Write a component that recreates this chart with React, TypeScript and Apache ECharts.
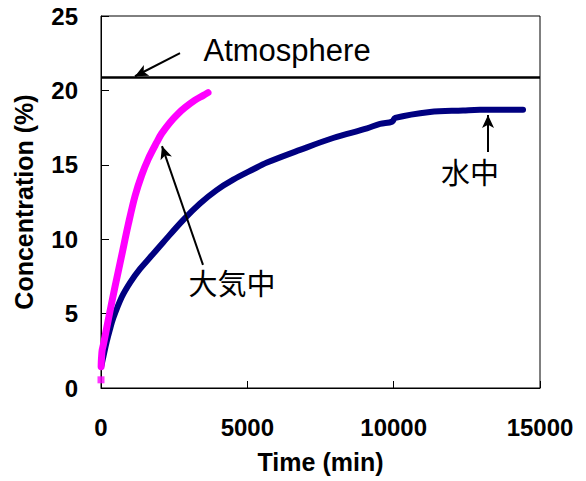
import React, { useEffect, useRef } from "react";
import * as echarts from "echarts";

// 水中 (in water) series
const waterTime = [15, 80, 194, 300, 420, 706, 1000, 1333, 1732, 2130, 2813, 3383, 3953, 4520, 5205, 5672, 6800, 7930, 9090, 9533, 9950, 10050, 11240, 12370, 12950, 14420];
const waterConc = [1.5, 2.1, 3.1, 3.9, 4.7, 6.1, 7.1, 8.0, 8.9, 9.8, 11.3, 12.4, 13.3, 14.0, 14.7, 15.15, 16.0, 16.8, 17.45, 17.75, 17.9, 18.15, 18.55, 18.65, 18.7, 18.7];

// 大気中 (in air) series
const airTime = [5, 10, 20, 40, 80, 250, 478, 706, 933, 1162, 1390, 1617, 1902, 2073, 2358, 2643, 2870, 3212, 3485, 3656];
const airConc = [1.43, 1.77, 2.1, 2.55, 2.9, 4.6, 6.8, 8.9, 11.0, 12.9, 14.3, 15.4, 16.5, 17.1, 17.85, 18.45, 18.85, 19.35, 19.65, 19.85];
const airStartTime = [0];
const airStartConc = [0.55];

// atmospheric level
const atmosphereLevel = 20.9;

// axis ticks
const xTicks = [0, 5000, 10000, 15000];
const yTicks = [0, 5, 10, 15, 20, 25];

// annotations (data coordinates)
const annotationTexts = ["Atmosphere", "大気中", "水中"];
const annotationTextTime = [3485, 4476, 12610];
const annotationTextConc = [22.7, 7.14, 14.58];
const arrowTailTime = [2700, 3485, 13224];
const arrowTailConc = [22.5, 8.27, 15.86];
const arrowHeadTime = [1162, 2084, 13224];
const arrowHeadConc = [20.95, 16.26, 18.35];

const NUM_FONT = "'Liberation Sans', Arial, sans-serif";
const CJK_FONT = "'Noto Sans CJK JP', 'Liberation Sans', sans-serif";

export default function App() {
  const ref = useRef<HTMLDivElement>(null);

  useEffect(() => {
    document.body.style.margin = "0";
    if (!ref.current) return;
    const chart = echarts.init(ref.current, undefined, { renderer: "svg" });

    const waterData = waterTime.map((t, i) => [t, waterConc[i]]);
    const airData = airTime.map((t, i) => [t, airConc[i]]);
    const airStart = airStartTime.map((t, i) => [t, airStartConc[i]]);

    const arrows = arrowTailTime.map((t, i) => [
      { coord: [t, arrowTailConc[i]] },
      { coord: [arrowHeadTime[i], arrowHeadConc[i]] },
    ]);

    const labels = annotationTexts.map((txt, i) => ({
      coord: [annotationTextTime[i], annotationTextConc[i]],
      value: txt,
      symbol: "circle",
      symbolSize: 1,
      itemStyle: { color: "transparent" },
      label: {
        show: true,
        formatter: txt,
        position: i === 0 ? "right" : "inside",
        distance: 0,
        color: "#000",
        fontSize: i === 0 ? 31 : 29,
        fontFamily: i === 0 ? NUM_FONT : CJK_FONT,
        fontWeight: "normal",
      },
    }));

    chart.setOption({
      animation: false,
      backgroundColor: "#fff",
      grid: {
        left: 101,
        right: 46,
        top: 16,
        bottom: 93,
        show: true,
        borderColor: "#000",
        borderWidth: 1,
        backgroundColor: "transparent",
      },
      xAxis: {
        type: "value",
        min: xTicks[0],
        max: xTicks[xTicks.length - 1],
        interval: xTicks[1] - xTicks[0],
        name: "Time (min)",
        nameLocation: "middle",
        nameGap: 61,
        nameTextStyle: { fontSize: 25, fontWeight: "bold", color: "#000", fontFamily: NUM_FONT },
        axisLine: { show: true, lineStyle: { color: "#000", width: 1 } },
        axisTick: { show: true, inside: true, length: 7, lineStyle: { color: "#000" } },
        axisLabel: {
          margin: 27,
          fontSize: 24,
          fontWeight: "bold",
          color: "#000",
          fontFamily: NUM_FONT,
          formatter: (v: number) => String(v),
        },
        splitLine: { show: false },
      },
      yAxis: {
        type: "value",
        min: yTicks[0],
        max: yTicks[yTicks.length - 1],
        interval: yTicks[1] - yTicks[0],
        name: "Concentration (%)",
        nameLocation: "middle",
        nameGap: 65,
        nameTextStyle: { fontSize: 25, fontWeight: "bold", color: "#000", fontFamily: NUM_FONT },
        axisLine: { show: true, lineStyle: { color: "#000", width: 1 } },
        axisTick: { show: true, inside: true, length: 8, lineStyle: { color: "#000" } },
        axisLabel: {
          margin: 23,
          fontSize: 24,
          fontWeight: "bold",
          color: "#000",
          fontFamily: NUM_FONT,
          formatter: (v: number) => String(v),
        },
        splitLine: { show: false },
      },
      series: [
        {
          name: "水中",
          type: "line",
          data: waterData,
          showSymbol: false,
          smooth: 0.35,
          lineStyle: { color: "#000080", width: 6, cap: "round", join: "round" },
          itemStyle: { color: "#000080" },
          silent: true,
          z: 3,
          markLine: {
            silent: true,
            symbol: ["none", "none"],
            label: { show: false },
            lineStyle: { color: "#000", width: 2.5, type: "solid" },
            data: [{ yAxis: atmosphereLevel }],
          },
          markPoint: {
            silent: true,
            data: labels,
          },
        },
        {
          name: "大気中",
          type: "line",
          data: airData,
          showSymbol: false,
          smooth: 0.35,
          lineStyle: { color: "#FF00FF", width: 7, cap: "round", join: "round" },
          itemStyle: { color: "#FF00FF" },
          silent: true,
          z: 4,
          markLine: {
            silent: true,
            symbol: ["none", "arrow"],
            symbolSize: [9, 13],
            label: { show: false },
            lineStyle: { color: "#000", width: 2, type: "solid" },
            itemStyle: { color: "#000" },
            data: arrows,
          },
        },
        {
          name: "大気中 start",
          type: "scatter",
          data: airStart,
          symbol: "rect",
          symbolSize: 7,
          itemStyle: { color: "#FF00FF" },
          silent: true,
          z: 4,
        },
      ],
    });

    return () => chart.dispose();
  }, []);

  return <div ref={ref} style={{ width: 586, height: 481 }} />;
}
